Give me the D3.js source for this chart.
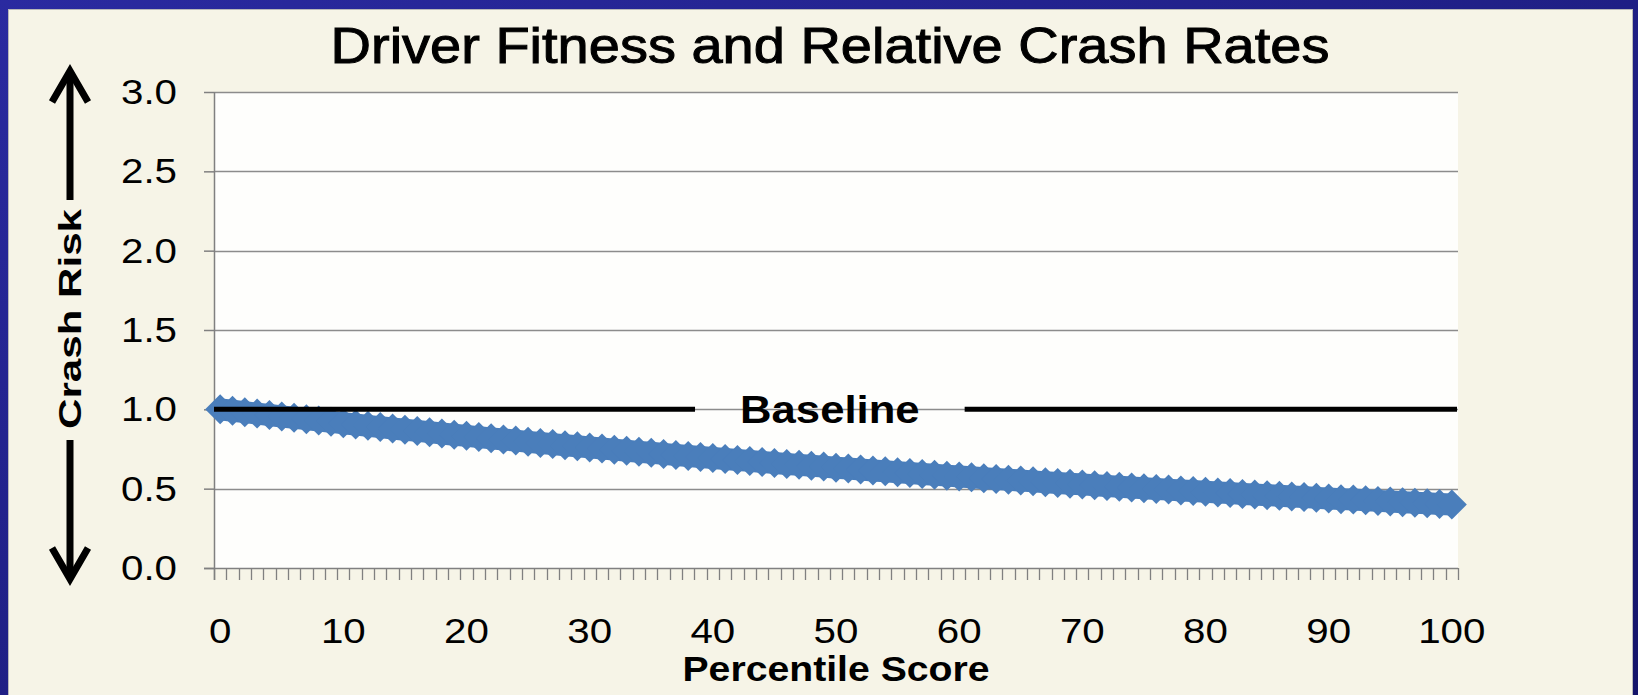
<!DOCTYPE html>
<html>
<head>
<meta charset="utf-8">
<script src="https://cdn.jsdelivr.net/npm/d3@7"></script>
<style>
  html, body { margin: 0; padding: 0; background: #1c1c84; }
  svg { display: block; }
  text { font-family: "Liberation Sans", Arial, sans-serif; fill: #000; }
</style>
</head>
<body>
<div class="chart"></div>
<script>
    // Chart values
    const percentiles = d3.range(0, 101);
    const crashRisk = [
      1.000, 0.991, 0.982, 0.973, 0.964, 0.955, 0.947, 0.938, 0.929, 0.921,
      0.912, 0.904, 0.896, 0.888, 0.879, 0.871, 0.864, 0.856, 0.848, 0.840,
      0.833, 0.825, 0.817, 0.810, 0.803, 0.795, 0.788, 0.781, 0.774, 0.767,
      0.760, 0.753, 0.746, 0.739, 0.732, 0.726, 0.719, 0.712, 0.706, 0.700,
      0.693, 0.687, 0.681, 0.675, 0.668, 0.662, 0.656, 0.650, 0.644, 0.639,
      0.632, 0.627, 0.621, 0.615, 0.610, 0.604, 0.599, 0.593, 0.588, 0.582,
      0.577, 0.572, 0.566, 0.561, 0.556, 0.551, 0.546, 0.541, 0.536, 0.531,
      0.527, 0.522, 0.517, 0.512, 0.508, 0.503, 0.498, 0.494, 0.489, 0.485,
      0.480, 0.476, 0.472, 0.467, 0.463, 0.459, 0.455, 0.451, 0.447, 0.442,
      0.438, 0.434, 0.431, 0.427, 0.423, 0.419, 0.415, 0.411, 0.408, 0.404,
      0.400
    ];
    const baselineValue = 1.0;
    const yTicks = [0, 0.5, 1.0, 1.5, 2.0, 2.5, 3.0];
    const xTickLabels = [0, 10, 20, 30, 40, 50, 60, 70, 80, 90, 100];

    const titleText = 'Driver Fitness and Relative Crash Rates';
    const xTitle = 'Percentile Score';
    const yTitle = 'Crash Risk';
    const baselineText = 'Baseline';

    // Frame of the page
    const W = 1638, H = 695;
    const plot = {left: 214, right: 1458, top: 92, bottom: 568};
    const stretch = 1.12; // the slide text is a bit wider than plain Arial
    const blue = '#4a7ebb';

    const svg = d3.select('.chart').append('svg')
        .attr('width', W)
        .attr('height', H);

    const defs = svg.append('defs');
    const grad = defs.append('linearGradient')
        .attr('id', 'frameGrad')
        .attr('x1', 0).attr('y1', 0).attr('x2', 1).attr('y2', 1);
    grad.append('stop').attr('offset', '0%').attr('stop-color', '#2a2aa0');
    grad.append('stop').attr('offset', '100%').attr('stop-color', '#14146a');

    svg.append('rect')
        .attr('width', W).attr('height', H)
        .attr('fill', 'url(#frameGrad)');

    svg.append('rect')
        .attr('x', 8.5).attr('y', 9.5)
        .attr('width', 1624).attr('height', 690)
        .attr('fill', '#f6f4e7')
        .attr('stroke', '#b8b8b8');

    // Scales
    const xScale = d3.scaleBand()
        .domain(percentiles)
        .range([plot.left, plot.right])
        .paddingInner(0)
        .paddingOuter(0);

    const yScale = d3.scaleLinear()
        .domain([0, 3])
        .range([plot.bottom, plot.top]);

    const xCenter = d => xScale(d) + xScale.bandwidth() / 2;

    // Plot area
    svg.append('rect')
        .attr('x', plot.left).attr('y', plot.top)
        .attr('width', plot.right - plot.left)
        .attr('height', plot.bottom - plot.top)
        .attr('fill', '#fefefc');

    // Gridlines
    svg.append('g')
        .selectAll('line')
        .data(yTicks.filter(d => d > 0))
        .join('line')
          .attr('x1', plot.left).attr('x2', plot.right)
          .attr('y1', d => Math.round(yScale(d)) + 0.5)
          .attr('y2', d => Math.round(yScale(d)) + 0.5)
          .attr('stroke', '#8c8c8c')
          .attr('stroke-width', 1.5);

    // Y axis
    const yAxis = svg.append('g')
        .attr('transform', `translate(${plot.left},0)`)
        .call(d3.axisLeft(yScale)
          .tickValues(yTicks)
          .tickFormat(d3.format('.1f'))
          .tickSize(10)
          .tickPadding(23));
    yAxis.select('.domain').remove();
    yAxis.selectAll('.tick line').attr('stroke', '#808080').attr('stroke-width', 1.5);
    yAxis.selectAll('.tick text')
        .attr('font-size', 36)
        .attr('font-family', '"Liberation Sans", Arial, sans-serif')
        .attr('fill', '#000')
        .attr('transform', `scale(${stretch},1)`);

    svg.append('line')
        .attr('x1', plot.left + 0.5).attr('x2', plot.left + 0.5)
        .attr('y1', plot.top).attr('y2', plot.bottom + 12)
        .attr('stroke', '#808080').attr('stroke-width', 1.5);

    // X axis: boundary ticks for every category, labels every ten
    const boundaries = percentiles.map(d => xScale(d)).concat([xScale.range()[1]]);
    svg.append('g')
        .selectAll('line')
        .data(boundaries)
        .join('line')
          .attr('x1', d => Math.round(d) + 0.5).attr('x2', d => Math.round(d) + 0.5)
          .attr('y1', plot.bottom).attr('y2', plot.bottom + 12)
          .attr('stroke', '#808080').attr('stroke-width', 1.3);

    svg.append('line')
        .attr('x1', plot.left - 10).attr('x2', plot.right)
        .attr('y1', plot.bottom + 0.5).attr('y2', plot.bottom + 0.5)
        .attr('stroke', '#808080').attr('stroke-width', 1.5);

    const xAxis = svg.append('g')
        .attr('transform', `translate(0,${plot.bottom})`)
        .call(d3.axisBottom(xScale)
          .tickValues(xTickLabels)
          .tickSize(0)
          .tickPadding(49));
    xAxis.select('.domain').remove();
    xAxis.selectAll('.tick text')
        .attr('font-size', 36)
        .attr('font-family', '"Liberation Sans", Arial, sans-serif')
        .attr('fill', '#000')
        .attr('transform', `scale(${stretch},1)`);

    // Series: thick line with large diamond markers
    const points = percentiles.map((p, i) => ({p, v: crashRisk[i]}));
    const line = d3.line()
        .x(d => xCenter(d.p))
        .y(d => yScale(d.v));

    svg.append('path')
        .datum(points)
        .attr('d', line)
        .attr('fill', 'none')
        .attr('stroke', blue)
        .attr('stroke-width', 22);

    const r = 15;
    svg.append('g')
        .selectAll('path')
        .data(points)
        .join('path')
          .attr('d', `M0,${-r}L${r},0L0,${r}L${-r},0Z`)
          .attr('transform', d => `translate(${xCenter(d.p)},${yScale(d.v)})`)
          .attr('fill', blue);

    // Baseline annotation
    const baseY = yScale(baselineValue);
    const labelX = xScale(50);
    const baseLabel = svg.append('text')
        .attr('transform', `translate(${labelX},${baseY + 14}) scale(${stretch},1)`)
        .attr('text-anchor', 'middle')
        .attr('font-size', 39)
        .attr('font-weight', 'bold')
        .text(baselineText);
    const labelHalf = baseLabel.node().getComputedTextLength() * stretch / 2;
    const gap = 45;
    [[plot.left, labelX - labelHalf - gap], [labelX + labelHalf + gap, plot.right - 1]]
      .forEach(([a, b]) => {
        svg.append('line')
            .attr('x1', a).attr('x2', b)
            .attr('y1', baseY).attr('y2', baseY)
            .attr('stroke', '#000')
            .attr('stroke-width', 5);
      });

    // Title
    svg.append('text')
        .attr('transform', `translate(830,63) scale(${stretch},1)`)
        .attr('text-anchor', 'middle')
        .attr('font-size', 50)
        .attr('stroke', '#000')
        .attr('stroke-width', 1)
        .text(titleText);

    // X axis title
    svg.append('text')
        .attr('transform', `translate(836,681) scale(${stretch},1)`)
        .attr('text-anchor', 'middle')
        .attr('font-size', 35)
        .attr('font-weight', 'bold')
        .text(xTitle);

    // Y axis title with arrows
    const ax = 70;
    svg.append('text')
        .attr('transform', `translate(${ax + 11},319) rotate(-90)`)
        .attr('text-anchor', 'middle')
        .attr('font-size', 31)
        .attr('font-weight', 'bold')
        .attr('textLength', 220)
        .attr('lengthAdjust', 'spacingAndGlyphs')
        .text(yTitle);

    const arrow = svg.append('g')
        .attr('stroke', '#000')
        .attr('stroke-width', 7)
        .attr('fill', 'none');
    arrow.append('line').attr('x1', ax).attr('x2', ax).attr('y1', 72).attr('y2', 200);
    arrow.append('path').attr('d', `M${ax - 18},102L${ax},71L${ax + 18},102`);
    arrow.append('line').attr('x1', ax).attr('x2', ax).attr('y1', 440).attr('y2', 578);
    arrow.append('path').attr('d', `M${ax - 18},548L${ax},579L${ax + 18},548`);
</script>
</body>
</html>
